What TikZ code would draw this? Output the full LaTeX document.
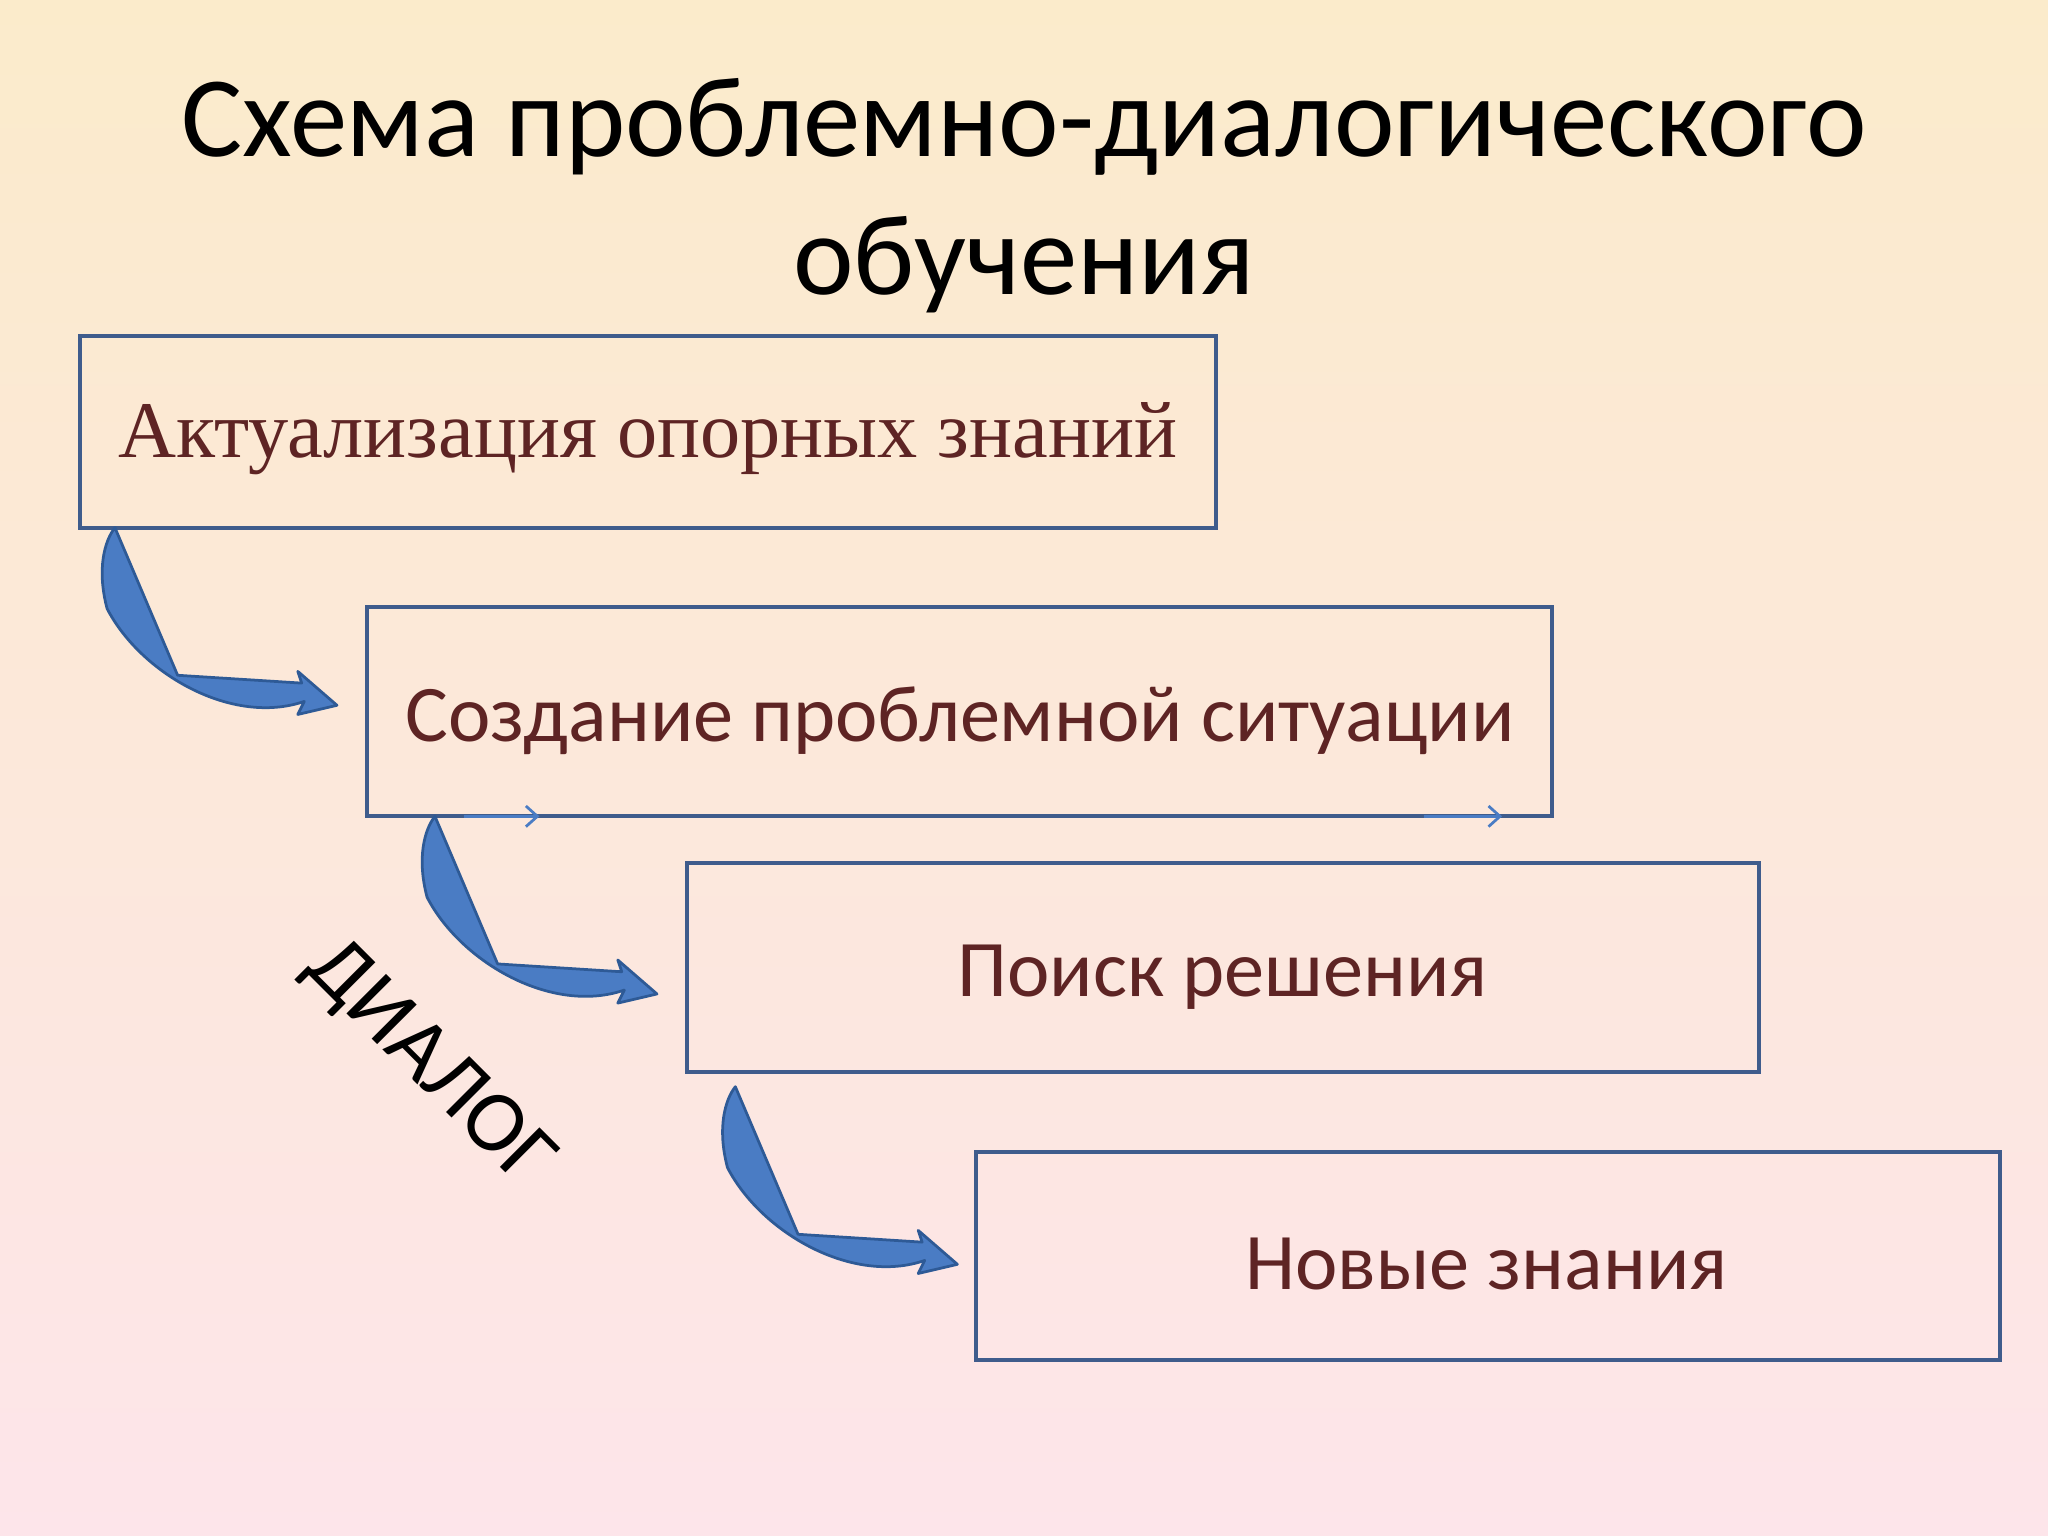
\documentclass[tikz,border=0pt]{standalone}
\usepackage{fontspec}
\usetikzlibrary{arrows.meta}
\setmainfont{Carlito}
\newfontfamily\serifru{Liberation Serif}
\begin{document}
\begin{tikzpicture}[x=0.02cm,y=-0.02cm,
  stepbox/.style={draw=boxcol,line width=1.8pt},
  boxtext/.style={text=txtcol,font=\fontsize{35}{38}\selectfont},
  bendarrow/.style={fill=arrcol,draw=arrline,line width=1.2pt,line join=round}]
\definecolor{boxcol}{HTML}{3F5C8C}
\definecolor{txtcol}{HTML}{5E2424}
\definecolor{arrcol}{HTML}{4A7CC4}
\definecolor{arrline}{HTML}{2E5A96}
\definecolor{topc}{HTML}{FBEBCB}
\definecolor{botc}{HTML}{FDE5EA}
\shade[top color=topc,bottom color=botc] (0,0) rectangle (1568,1176);
\useasboundingbox (0,0) rectangle (1568,1176);
\node[font=\fontsize{50}{60}\selectfont,align=center] (title) at (784,150) {Схема проблемно-диалогического\\обучения};
\draw[stepbox] (61,257) rectangle (931,404);
\draw[stepbox] (281,465) rectangle (1188,625);
\draw[stepbox] (526,661) rectangle (1347,821);
\draw[stepbox] (747,882) rectangle (1531,1041);
\node[text=txtcol,font=\serifru\fontsize{35}{38}\selectfont] (t1) at (496,336) {Актуализация опорных знаний};
\node[boxtext] (t2) at (735,552) {Создание проблемной ситуации};
\node[boxtext] (t3) at (936,748) {Поиск решения};
\node[boxtext] (t4) at (1138,968) {Новые знания};
\foreach \ox/\oy in {88/404,333/625,563/832}{
  \draw[bendarrow,shift={(\ox,\oy)}] (0,0) -- (48,113) -- (143,119) -- (140,110) -- (170,136) -- (140,143) -- (145,133)
    .. controls (90,152) and (20,112) .. (-6,62) .. controls (-14,32) and (-8,10) .. (0,0) -- cycle;
}
\coordinate (a1s) at (355,625); \coordinate (a1e) at (413,625);
\coordinate (a2s) at (1090,625); \coordinate (a2e) at (1150,625);
\draw[-{Straight Barb[length=5pt,width=9pt]},arrcol,line width=1.2pt] (a1s) -- (a1e);
\draw[-{Straight Barb[length=5pt,width=9pt]},arrcol,line width=1.2pt] (a2s) -- (a2e);
\node[rotate=-45,font=\fontsize{38}{44}\selectfont] (dlg) at (328,815) {ДИАЛОГ};
\end{tikzpicture}
\end{document}
